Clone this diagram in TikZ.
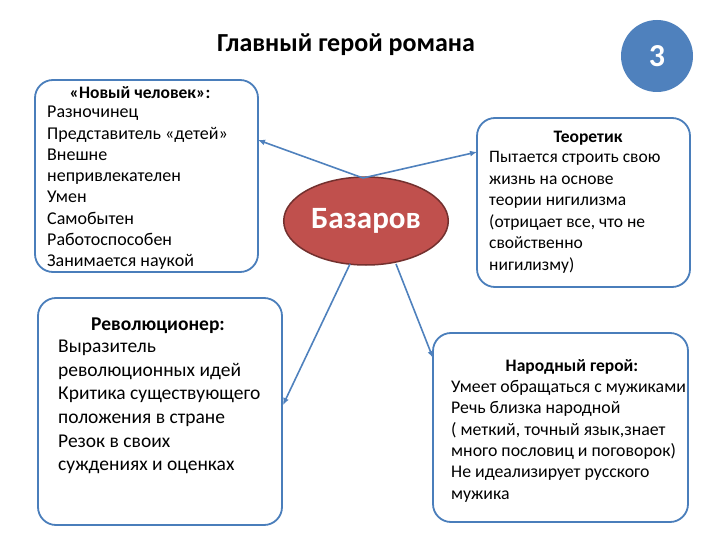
\documentclass[tikz,border=0pt]{standalone}
\usepackage{fontspec}
\setmainfont{Carlito}
\usetikzlibrary{arrows.meta,shapes.geometric}
\definecolor{bord}{HTML}{4A7EBB}
\definecolor{arr}{HTML}{4F81BD}
\definecolor{bred}{HTML}{C0504D}
\definecolor{circ}{HTML}{4F81BD}
\tikzset{
 box/.style={draw=bord,line width=1.8pt,rounded corners=18pt,fill=white},
 conn/.style={draw=arr,line width=1.6pt,-{Latex[length=7pt,width=6pt]}},
 hd/.style={font=\bfseries\fontsize{17.5}{20}\selectfont,inner sep=0},
 body/.style={align=left,anchor=north west,inner sep=0},
}
\begin{document}
\begin{tikzpicture}[x=1pt,y=-1pt]
\useasboundingbox (0,0) rectangle (720,540);
\node[font=\bfseries\fontsize{26}{30}\selectfont] (title) at (346,45) {Главный герой романа};
\node[circle,fill=circ,minimum size=72pt,text=white,font=\bfseries\fontsize{32}{36}\selectfont] (num) at (657,56) {3};
\path[box] (35,80) rectangle (258,272);
\coordinate (b1) at (258,140);
\node[hd] (h1) at (140,93) {«Новый человек»:};
\node[body,font=\fontsize{18}{21.3}\selectfont] (t1) at (47,106) {Разночинец\\Представитель «детей»\\Внешне\\непривлекателен\\Умен\\Самобытен\\Работоспособен\\Занимается наукой};
\path[box] (38,298) rectangle (282,525);
\coordinate (b2) at (283,405);
\node[hd,font=\bfseries\fontsize{19.5}{22}\selectfont] (h2) at (158,326) {Революционер:};
\node[body,font=\fontsize{19.5}{23.6}\selectfont] (t2) at (58,340) {Выразитель\\революционных идей\\Критика существующего\\положения в стране\\Резок в своих\\суждениях и оценках};
\path[box] (477,118) rectangle (690,287);
\coordinate (b3) at (477,152);
\node[hd] (h3) at (588,138) {Теоретик};
\node[body,font=\fontsize{17.5}{21.6}\selectfont] (t3) at (489,151) {Пытается строить свою\\жизнь на основе\\теории нигилизма\\(отрицает все, что не\\свойственно\\нигилизму)};
\path[box] (433,333) rectangle (688,522);
\coordinate (b4) at (433,358);
\node[hd] (h4) at (572,367) {Народный герой:};
\node[body,font=\fontsize{17.8}{21.4}\selectfont] (t4) at (451,380) {Умеет обращаться с мужиками\\Речь близка народной\\( меткий, точный язык,знает\\много пословиц и поговорок)\\Не идеализирует русского\\мужика};
\node[ellipse,fill=bred,draw=bred!60!black,line width=1.5pt,minimum width=156pt,minimum height=88pt,text=white,font=\bfseries\fontsize{31}{36}\selectfont] (baz) at (366,221) {Базаров};
\coordinate (e1) at (363,178);
\coordinate (e2) at (350,264);
\coordinate (e3) at (396,264);
\draw[conn] (e1) -- (b1);
\draw[conn] (e1) -- (b3);
\draw[conn] (e2) -- (b2);
\draw[conn] (e3) -- (b4);
\end{tikzpicture}
\end{document}
